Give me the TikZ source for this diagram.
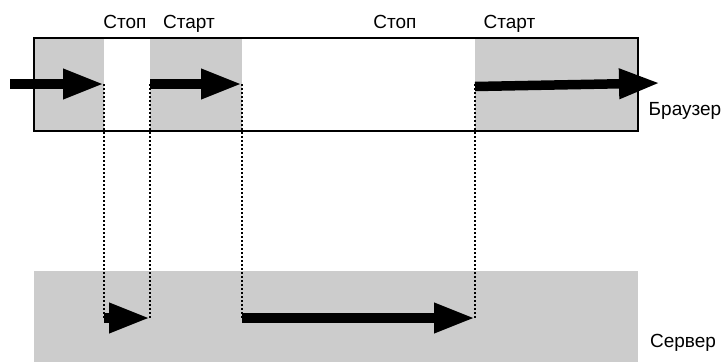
\documentclass[tikz,border=0pt]{standalone}
\usepackage{fontspec}
\setmainfont{Liberation Sans}
\usetikzlibrary{arrows.meta}

\definecolor{band}{HTML}{CCCCCC}

\tikzset{
  lbl/.style={font=\fontsize{19}{21}\selectfont, inner sep=0pt, anchor=base},
  flow/.style={line width=9.5pt, -{Triangle[length=41pt,width=28pt]}},
  sync/.style={line width=2pt, dash pattern=on 2pt off 2pt},
}

\begin{document}
\begin{tikzpicture}[x=1pt, y=-1pt]
  \useasboundingbox (0,0) rectangle (728,362);

  % browser timeline: active (grey) and paused (white) spans
  \fill[band] (34,38) rectangle (104,131);
  \fill[band] (150,38) rectangle (242,131);
  \fill[band] (475,38) rectangle (638,131);
  \draw[line width=1.7pt] (34,38) rectangle (638,131);

  % server timeline
  \fill[band] (34,271) rectangle (638,362);

  % switching points
  \coordinate (in)  at (10,84);
  \coordinate (b1)  at (104,84);
  \coordinate (b2)  at (150,84);
  \coordinate (b3)  at (242,84);
  \coordinate (b4)  at (475,86.5);
  \coordinate (out) at (660,83);
  \coordinate (s1)  at (104,318);
  \coordinate (s2)  at (150,318);
  \coordinate (s3)  at (242,318);
  \coordinate (s4)  at (475,318);

  % hand-over lines between browser and server
  \draw[sync] (b1) -- (s1);
  \draw[sync] (b2) -- (s2);
  \draw[sync] (b3) -- (s3);
  \draw[sync] (b4 |- b1) -- (s4);

  % execution flow
  \draw[flow] (in) -- (b1);
  \draw[flow] (b2) -- (b3);
  \draw[flow] (b4) -- (out);
  \draw[flow] (s1) -- (s2);
  \draw[flow] (s3) -- (s4);

  % labels
  \node[lbl] (stop1)  at (125,28) {Стоп};
  \node[lbl] (start1) at (189,28) {Старт};
  \node[lbl] (stop2)  at (395,28) {Стоп};
  \node[lbl] (start2) at (509.5,28) {Старт};
  \node[lbl] (browser) at (685,115) {Браузер};
  \node[lbl] (server)  at (683,347) {Сервер};
\end{tikzpicture}
\end{document}
